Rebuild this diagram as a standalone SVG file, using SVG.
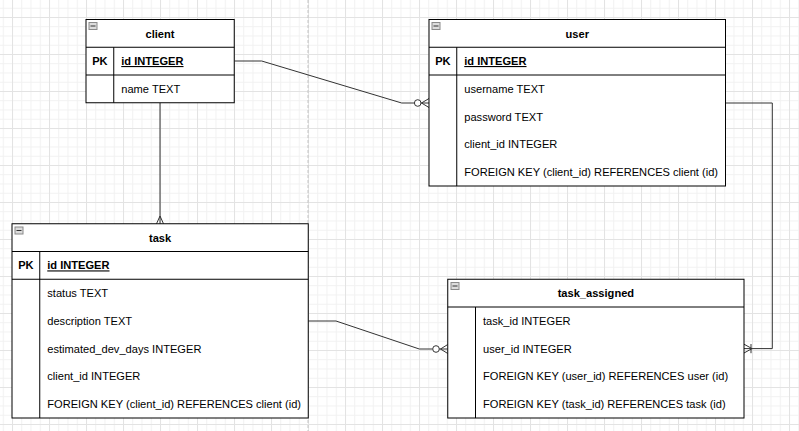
<svg xmlns="http://www.w3.org/2000/svg" width="799" height="431" viewBox="0 0 799 431">
<defs>
<pattern id="minor" width="9.25" height="9.25" patternUnits="userSpaceOnUse" x="12" y="17">
<path d="M0,0.5 H9.25 M0.5,0 V9.25" stroke="#f1f1f1" stroke-width="1" fill="none"/>
</pattern>
<pattern id="major" width="37" height="37" patternUnits="userSpaceOnUse" x="12" y="17">
<path d="M0,0.5 H37 M0.5,0 V37" stroke="#e3e3e3" stroke-width="1" fill="none"/>
</pattern>
<g id="icon">
<rect x="0" y="0" width="8" height="7" fill="#dcdcdc" stroke="#8a8a8a" stroke-width="1"/>
<path d="M1.5,3.5 H6.5" stroke="#333" stroke-width="1"/>
</g>
</defs>
<style>
.box{fill:#fff;stroke:#000;stroke-width:1}
.ln{stroke:#000;stroke-width:1;fill:none}
.t{font-family:"Liberation Sans",Arial,sans-serif;font-size:11.1px;fill:#000}
.b{font-weight:bold}
.c{text-anchor:middle}
.u{text-decoration:underline}
.edge{stroke:#333;stroke-width:1;fill:none}
.circ{stroke:#333;stroke-width:1;fill:#fff}
</style>
<rect width="799" height="431" fill="#fff"/>
<rect width="799" height="431" fill="url(#minor)"/>
<rect width="799" height="431" fill="url(#major)"/>
<path d="M308,0 V431" stroke="#c4c4c4" stroke-width="1" stroke-dasharray="3 2" fill="none"/>

<g id="connectors">
<path class="edge" d="M234.5,61 H261.7 L401.7,103 H414.4"/>
<circle class="circ" cx="417.7" cy="103" r="3.3"/>
<path class="edge" d="M421,103 H429 M421.5,103 L429,98.5 M421.5,103 L429,107.5"/>

<path class="edge" d="M160,102.75 V223.75 M160,216 L156.5,223.75 M160,216 L163.5,223.75"/>

<path class="edge" d="M308.25,321 H336 L419.3,349 H432.7"/>
<circle class="circ" cx="436" cy="349" r="3.3"/>
<path class="edge" d="M439.3,349 H447.75 M440.5,349 L447.75,344.5 M440.5,349 L447.75,353.5"/>

<path class="edge" d="M725.5,103 H772.3 V348.6 H744 M752,348.6 L744,344.2 M752,348.6 L744,353 M751,344 V353.2"/>
</g>

<g id="client">
<rect class="box" x="86" y="19.5" width="148.25" height="83.25"/>
<path class="ln" d="M86,47.25 H234.25 M86,75 H234.25 M113.75,47.25 V102.75"/>
<use href="#icon" x="89" y="22.5"/>
<text class="t b c" x="160" y="37.5">client</text>
<text class="t b c" x="99.9" y="65">PK</text>
<text class="t b u" x="121.25" y="65">id INTEGER</text>
<text class="t" x="121.25" y="92.8">name TEXT</text>
</g>

<g id="user">
<rect class="box" x="429" y="19.5" width="296.5" height="166.5"/>
<path class="ln" d="M429,47.25 H725.5 M429,75 H725.5 M456.75,47.25 V186"/>
<use href="#icon" x="432" y="22.5"/>
<text class="t b c" x="577.25" y="37.5">user</text>
<text class="t b c" x="442.9" y="65">PK</text>
<text class="t b u" x="464.25" y="65">id INTEGER</text>
<text class="t" x="464.25" y="92.8">username TEXT</text>
<text class="t" x="464.25" y="120.6">password TEXT</text>
<text class="t" x="464.25" y="148.3">client_id INTEGER</text>
<text class="t" x="464.25" y="176.1">FOREIGN KEY (client_id) REFERENCES client (id)</text>
</g>

<g id="task">
<rect class="box" x="12" y="223.75" width="296.25" height="194.25"/>
<path class="ln" d="M12,251.5 H308.25 M12,279.25 H308.25 M39.75,251.5 V418"/>
<use href="#icon" x="15" y="227"/>
<text class="t b c" x="160.1" y="241.7">task</text>
<text class="t b c" x="25.9" y="269.4">PK</text>
<text class="t b u" x="47.25" y="269.4">id INTEGER</text>
<text class="t" x="47.25" y="297.1">status TEXT</text>
<text class="t" x="47.25" y="324.9">description TEXT</text>
<text class="t" x="47.25" y="352.6">estimated_dev_days INTEGER</text>
<text class="t" x="47.25" y="380.4">client_id INTEGER</text>
<text class="t" x="47.25" y="408.1">FOREIGN KEY (client_id) REFERENCES client (id)</text>
</g>

<g id="task_assigned">
<rect class="box" x="447.75" y="279.25" width="296.25" height="138.75"/>
<path class="ln" d="M447.75,307 H744 M475.5,307 V418"/>
<use href="#icon" x="451" y="282.5"/>
<text class="t b c" x="595.9" y="297.1">task_assigned</text>
<text class="t" x="483" y="324.9">task_id INTEGER</text>
<text class="t" x="483" y="352.6">user_id INTEGER</text>
<text class="t" x="483" y="380.4">FOREIGN KEY (user_id) REFERENCES user (id)</text>
<text class="t" x="483" y="408.1">FOREIGN KEY (task_id) REFERENCES task (id)</text>
</g>
</svg>
